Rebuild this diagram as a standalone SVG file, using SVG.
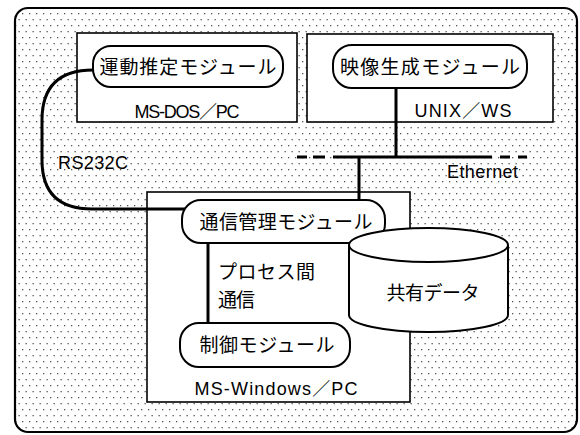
<svg xmlns="http://www.w3.org/2000/svg" width="580" height="435" viewBox="0 0 580 435">
<defs>
<pattern id="dots" width="7" height="12" patternUnits="userSpaceOnUse">
<rect x="1" y="1" width="1.3" height="1.3" fill="#555"/>
<rect x="4.5" y="7" width="1.3" height="1.3" fill="#555"/>
</pattern>
</defs>
<style>
.frame{fill:url(#dots);stroke:#000;stroke-width:2.2}
.box{fill:#fff;stroke:#000;stroke-width:1.6}
.pill{fill:#fff;stroke:#000;stroke-width:2}
.wire{fill:none;stroke:#000;stroke-width:3}
.jp{font-family:"Noto Sans CJK JP","Noto Sans",sans-serif;font-size:19px;fill:#000}
.en{font-family:"Liberation Sans",Arial,"Noto Sans CJK JP",sans-serif;font-size:18px;fill:#000}
</style>
<rect class="frame" x="15" y="8" width="562" height="424" rx="13"/>
<g id="msdos">
<rect class="box" x="77" y="33" width="220" height="89"/>
<text class="en" x="187" y="118" text-anchor="middle" textLength="105">MS-DOS／PC</text>
</g>
<g id="unix">
<rect class="box" x="307" y="34" width="246" height="88"/>
<text class="en" x="463" y="117" text-anchor="middle" textLength="97">UNIX／WS</text>
</g>
<g id="mswin">
<rect class="box" x="147" y="192" width="263" height="210"/>
<text class="en" x="276" y="395" text-anchor="middle" textLength="163">MS-Windows／PC</text>
</g>
<g id="connectors">
<path class="wire" d="M93 70 Q42 70 42 120 L42 160 Q42 209 92 209 L186 209"/>
<path class="wire" d="M396 88 V157"/>
<path class="wire" d="M333 157 H492"/>
<path class="wire" d="M297 157 H307 M313 157 H325 M500 157 H510 M518 157 H527"/>
<path class="wire" d="M359 157 V200"/>
<path class="wire" d="M208 243 V323"/>
</g>
<g id="motion">
<rect class="pill" x="93" y="46" width="190" height="41" rx="18"/>
<text class="jp" x="188" y="74" text-anchor="middle" textLength="177">運動推定モジュール</text>
</g>
<g id="video">
<rect class="pill" x="333" y="45" width="194" height="43" rx="19"/>
<text class="jp" x="430" y="74" text-anchor="middle" textLength="180">映像生成モジュール</text>
</g>
<g id="comm">
<rect class="pill" x="182" y="200" width="203" height="43" rx="19"/>
<text class="jp" x="286" y="229" text-anchor="middle" textLength="173">通信管理モジュール</text>
</g>
<g id="shared">
<path class="pill" d="M349 245 V315 A79.5 17 0 0 0 508 315 V245"/>
<ellipse class="pill" cx="428.5" cy="245" rx="79.5" ry="17"/>
<text class="jp" x="433" y="300" text-anchor="middle" textLength="93">共有データ</text>
</g>
<g id="control">
<rect class="pill" x="180" y="323" width="170" height="44" rx="19"/>
<text class="jp" x="267" y="352" text-anchor="middle" textLength="135">制御モジュール</text>
</g>
<g id="labels">
<text class="en" x="58" y="169" textLength="70">RS232C</text>
<text class="en" x="447" y="178" textLength="71">Ethernet</text>
<text class="jp" x="218" y="279" textLength="97">プロセス間</text>
<text class="jp" x="218" y="307" textLength="37">通信</text>
</g>
</svg>
